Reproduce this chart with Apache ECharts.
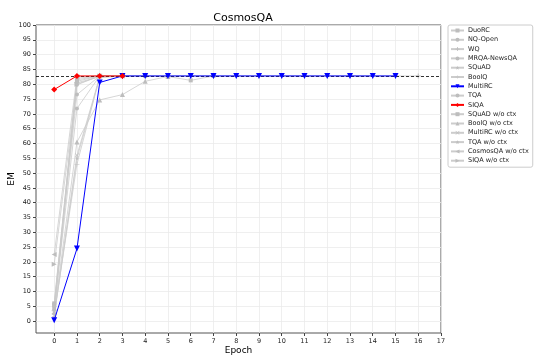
<!DOCTYPE html>
<html><head><meta charset="utf-8">
<script src="https://cdn.jsdelivr.net/npm/echarts@6/dist/echarts.min.js"></script>
<style>html,body{margin:0;padding:0;background:#fff}#c{width:534px;height:360px}</style>
</head><body><div id="c"></div>
<script>
const seriesNames = ["DuoRC","NQ-Open","WQ","MRQA-NewsQA","SQuAD","BoolQ","MultiRC","TQA","SIQA","SQuAD w/o ctx","BoolQ w/o ctx","MultiRC w/o ctx","TQA w/o ctx","CosmosQA w/o ctx","SIQA w/o ctx"];
const DuoRC = [5.5, 81.5, 82.8, 82.8, 82.8, 82.6, 81.3, 82.8];
const NQOpen = [4.5, 79.8, 82.8, 82.8];
const WQ = [3.5, 80.5, 82.5, 82.8, 82.8, 82.8, 82.8, 82.8, 82.8, 82.8, 82.8, 82.8, 82.8, 82.8, 82.8, 82.8, 82.8];
const MRQANewsQA = [5.0, 76.5, 82.8, 82.8];
const SQuAD = [3.0, 82.0, 82.8];
const BoolQ = [2.5, 53.0, 82.5, 82.8];
const MultiRC = [0.3, 24.5, 80.6, 82.8, 82.8, 82.8, 82.8, 82.8, 82.8, 82.8, 82.8, 82.8, 82.8, 82.8, 82.8, 82.8];
const TQA = [4.0, 71.8, 82.8, 82.8];
const SIQA = [78.2, 82.8, 82.8, 82.8];
const SQuADnc = [6.0, 81.0, 82.8, 82.8];
const BoolQnc = [3.0, 60.5, 74.7, 76.5, 81.0, 82.6];
const MultiRCnc = [2.0, 56.0, 82.5, 82.8];
const TQAnc = [1.5, 55.0, 82.2, 82.8];
const CosmosQAnc = [22.5, 82.5, 82.8, 82.8];
const SIQAnc = [19.2, 80.0, 82.8, 82.8];
const baseline = 82.8;
const xTicks = [0,1,2,3,4,5,6,7,8,9,10,11,12,13,14,15,16,17];
const yTicks = [0,5,10,15,20,25,30,35,40,45,50,55,60,65,70,75,80,85,90,95,100];

const allData = [DuoRC,NQOpen,WQ,MRQANewsQA,SQuAD,BoolQ,MultiRC,TQA,SIQA,SQuADnc,BoolQnc,MultiRCnc,TQAnc,CosmosQAnc,SIQAnc];
const plus = 'path://M4,0H6V4H10V6H6V10H4V6H0V4H4Z';
const thinPlus = 'path://M4.6,0H5.4V4.6H10V5.4H5.4V10H4.6V5.4H0V4.6H4.6Z';
const cross = 'path://M1,0L5,4L9,0L10,1L6,5L10,9L9,10L5,6L1,10L0,9L4,5L0,1Z';
const star = 'path://M5,0L6.2,3.6H10L7,5.9L8.1,9.5L5,7.3L1.9,9.5L3,5.9L0,3.6H3.8Z';
const styles = [
  {s:'rect', sz:4},{s:'circle', sz:4},{s:plus, sz:5},{s:'circle', sz:4},{s:star, sz:4},
  {s:thinPlus, sz:5},{s:'triangle', sz:6, rot:180},{s:'circle', sz:4},{s:'diamond', sz:6},
  {s:'rect', sz:4},{s:'triangle', sz:5},{s:cross, sz:4},{s:star, sz:4},{s:'triangle', sz:5, rot:90},{s:'triangle', sz:5, rot:-90}
];
const gray = '#cccccc';
const series = seriesNames.map((n,i)=>{
  let c = gray, mc = '#bdbdbd', z = 2, w = 0.8;
  if (n === 'MultiRC') { c = '#0000ff'; mc = c; z = 5; w = 1; }
  if (n === 'SIQA') { c = '#ff0000'; mc = c; z = 6; w = 1; }
  const st = styles[i];
  const o = {
    name: n, type: 'line', z: z,
    data: allData[i].map((v,k)=>[k,v]),
    symbol: st.s, symbolSize: st.sz, symbolRotate: st.rot || 0,
    showSymbol: true, animation: false,
    lineStyle: {color: c, width: w},
    itemStyle: {color: mc},
    emphasis: {disabled: true}
  };
  if (n === 'SIQA') {
    o.markLine = {silent: true, symbol: 'none', label: {show: false}, animation: false,
      lineStyle: {color: '#000', type: [3,2], width: 0.8},
      data: [{yAxis: baseline}]};
  }
  return o;
});
const chart = echarts.init(document.getElementById('c'), null, {renderer: 'canvas'});
const font = 'DejaVu Sans';
chart.setOption({
  animation: false,
  textStyle: {fontFamily: font},
  title: {text: 'CosmosQA', left: 238, textAlign: 'center', top: 8,
    textStyle: {fontFamily: font, fontSize: 11, fontWeight: 'normal', color: '#000'}},
  grid: {left: 36, right: 93, top: 25, bottom: 27, outerBoundsMode: 'none', containLabel: false,
    show: true, borderColor: '#555', borderWidth: 1, backgroundColor: 'transparent'},
  legend: {
    orient: 'vertical', left: 448, top: 25, data: seriesNames,
    itemWidth: 13, itemHeight: 5, itemGap: 2.3,
    padding: [2, 4, 3, 2],
    borderColor: '#cccccc', borderWidth: 1, borderRadius: 2, backgroundColor: '#fff',
    textStyle: {fontFamily: font, fontSize: 6.5, color: '#222', padding: [0,0,0,-1]}
  },
  xAxis: {
    type: 'value', min: -0.8, max: 17,
    name: 'Epoch', nameLocation: 'middle', nameGap: 13, nameMoveOverlap: false,
    nameTextStyle: {fontFamily: font, fontSize: 9, color: '#000'},
    axisLine: {show: false, onZero: false},
    axisTick: {show: true, length: 3, customValues: xTicks, lineStyle: {color: '#444'}},
    axisLabel: {customValues: xTicks, fontSize: 6.5, color: '#222', margin: 5, fontFamily: font},
    splitLine: {show: true, lineStyle: {color: '#ebebeb', width: 0.8}}
  },
  yAxis: {
    type: 'value', min: -4, max: 100,
    name: 'EM', nameLocation: 'middle', nameGap: 20, nameMoveOverlap: false,
    nameTextStyle: {fontFamily: font, fontSize: 9, color: '#000'},
    axisLine: {show: false, onZero: false},
    axisTick: {show: true, length: 3, customValues: yTicks, lineStyle: {color: '#444'}},
    axisLabel: {customValues: yTicks, fontSize: 6.5, color: '#222', margin: 5, fontFamily: font},
    splitLine: {show: true, lineStyle: {color: '#ebebeb', width: 0.8}}
  },
  series: series
});
</script>
</body></html>
